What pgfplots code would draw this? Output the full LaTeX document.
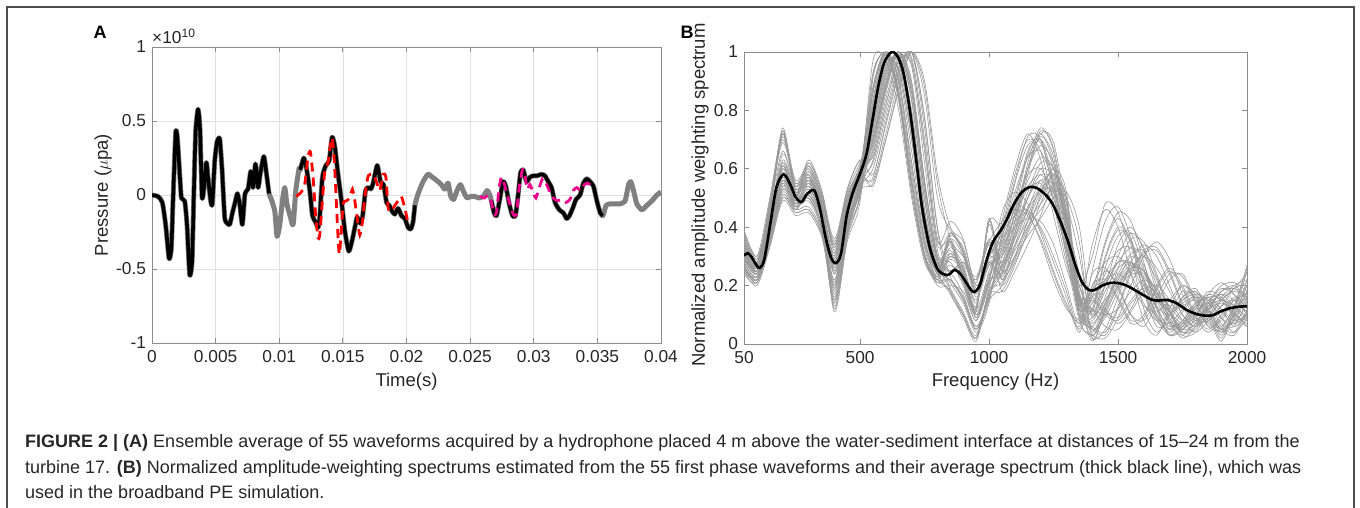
\documentclass[border=0pt]{standalone}
\usepackage{fontspec}
\setmainfont{Liberation Sans}
\usepackage{pgfplots}
\usepackage{pgfplotstable}
\pgfplotsset{compat=1.18}

% waveform (time in ms, pressure in 1e10 uPa)
\pgfplotstableread{
t v
0 0
0.47 -0.01
0.81 -0.05
1.07 -0.20
1.34 -0.43
1.52 -0.36
1.65 -0.04
1.86 0.42
1.99 0.39
2.18 0.14
2.31 -0.02
2.57 -0.04
2.75 -0.20
2.96 -0.54
3.15 -0.45
3.28 -0.02
3.43 0.43
3.62 0.58
3.77 0.45
3.93 -0.01
4.06 0.03
4.27 0.22
4.40 0.12
4.61 -0.04
4.74 -0.06
4.93 0.23
5.11 0.36
5.32 0.38
5.50 0.18
5.71 -0.15
5.90 -0.19
6.11 -0.20
6.32 -0.12
6.50 -0.06
6.71 0.01
6.89 -0.06
7.10 -0.20
7.31 0.01
7.55 0.04
7.76 0.16
7.94 0.05
8.13 0.21
8.34 0.05
8.52 0.15
8.79 0.26
9.00 0.14
9.20 0.01
9.38 -0.03
9.65 -0.11
9.83 -0.28
10.04 -0.20
10.25 -0.04
10.43 0.05
10.60 -0.06
10.88 -0.15
11.09 -0.20
11.30 0.03
11.56 0.18
11.65 0.17
11.93 0.25
12.14 0.18
12.40 0.03
12.61 -0.14
12.84 -0.18
13.05 -0.22
13.18 -0.15
13.39 0.12
13.66 0.20
13.92 0.23
14.15 0.39
14.36 0.33
14.62 0.14
14.89 -0.04
15.15 -0.24
15.46 -0.38
15.72 -0.31
15.94 -0.22
16.12 -0.15
16.33 -0.19
16.54 -0.15
16.78 0.03
16.99 0.05
17.20 0.04
17.38 0.08
17.70 0.20
17.96 0.09
18.20 0.07
18.43 -0.05
18.64 -0.07
18.87 -0.11
19.08 -0.13
19.34 -0.09
19.60 -0.14
19.87 -0.16
20.13 -0.22
20.34 -0.23
20.52 -0.18
20.66 -0.07
20.92 0.01
21.30 0.09
21.69 0.14
22.03 0.12
22.35 0.10
22.74 0.07
23.00 0.04
23.27 0.08
23.48 -0.01
23.71 -0.03
23.97 0.03
24.24 0.07
24.50 0.02
24.76 -0.02
25.02 -0.01
25.36 -0.01
25.71 -0.02
26.02 -0.01
26.34 0.03
26.55 0.00
26.67 -0.04
26.88 -0.12
27.07 -0.14
27.33 -0.03
27.59 0.09
27.80 0.06
28.07 -0.06
28.33 -0.14
28.56 -0.14
28.77 0.00
28.96 0.15
29.17 0.17
29.43 0.09
29.70 0.12
29.96 0.13
30.27 0.13
30.61 0.14
30.88 0.13
31.14 0.09
31.40 0.05
31.67 -0.05
32.01 -0.10
32.32 -0.12
32.59 -0.16
32.80 -0.14
33.06 -0.09
33.32 -0.03
33.64 0.00
33.90 0.08
34.17 0.11
34.43 0.09
34.69 0.06
34.96 -0.04
35.22 -0.12
35.43 -0.14
35.69 -0.07
36.00 -0.06
36.40 -0.06
36.79 -0.06
37.18 -0.04
37.45 0.07
37.63 0.09
37.84 0.03
38.10 -0.06
38.50 -0.10
38.89 -0.07
39.28 -0.04
39.68 0.00
40.00 0.02
}\wave

\pgfplotstableread{
t v
11.34 -0.01
11.73 0.02
12.00 0.07
12.26 0.26
12.45 0.29
12.66 0.12
12.87 -0.15
13.05 -0.29
13.18 -0.27
13.39 -0.04
13.58 0.16
13.84 0.22
14.05 0.36
14.18 0.38
14.36 0.18
14.57 -0.20
14.71 -0.40
14.84 -0.29
15.02 -0.06
15.28 -0.04
15.54 -0.02
15.75 0.04
15.94 -0.04
16.12 -0.15
16.33 -0.27
16.54 -0.18
16.72 -0.02
16.99 0.13
17.38 0.14
17.64 0.09
17.90 0.03
18.17 0.14
18.38 0.12
18.56 -0.09
18.82 -0.11
19.08 -0.07
19.34 -0.04
19.60 -0.01
19.87 -0.09
20.13 -0.19
}\redwave

\pgfplotstableread{
t v
25.76 -0.01
26.15 -0.02
26.42 0.00
26.67 -0.05
26.88 -0.13
27.07 -0.12
27.28 0.05
27.46 0.12
27.67 0.08
27.98 -0.02
28.38 -0.13
28.64 -0.13
28.85 0.05
29.11 0.17
29.30 0.14
29.48 0.04
29.70 0.07
29.90 0.03
30.17 -0.02
30.43 0.05
30.69 0.11
30.96 0.08
31.22 0.03
31.54 -0.02
31.85 -0.04
32.19 -0.03
32.53 -0.05
32.85 -0.03
33.11 0.03
33.38 0.05
33.69 0.03
33.98 0.07
34.22 0.08
34.43 0.07
}\magwave

% spectra of the individual waveforms: one row per waveform, one column per frequency (Hz)
\pgfplotstableread{
id 50 100 150 200 250 300 350 400 450 500 550 600 650 700 750 800 850 900 950 1000 1050 1100 1150 1200 1250 1300 1350 1400 1450 1500 1550 1600 1650 1700 1750 1800 1850 1900 1950 2000
1 .30 .25 .40 .57 .48 .52 .44 .27 .45 .57 .78 .96 .96 .72 .40 .24 .30 .25 .10 .22 .40 .58 .70 .66 .48 .28 .15 .10 .18 .26 .28 .22 .12 .06 .08 .14 .16 .12 .08 .10
2 .36 .28 .48 .71 .55 .60 .51 .33 .50 .61 .86 1 .87 .58 .33 .23 .38 .31 .18 .28 .30 .40 .50 .56 .50 .36 .20 .30 .48 .45 .30 .12 .04 .10 .18 .16 .08 .04 .10 .18
3 .26 .21 .34 .50 .45 .46 .38 .20 .40 .52 .70 .90 1 .84 .50 .26 .22 .15 .05 .15 .20 .30 .42 .54 .58 .40 .12 .15 .10 .08 .14 .18 .15 .10 .06 .08 .12 .14 .12 .08
4 .33 .25 .42 .62 .52 .56 .46 .30 .48 .58 .65 .84 .98 .95 .62 .30 .25 .28 .22 .35 .42 .48 .45 .35 .22 .12 .08 .05 .03 .12 .24 .32 .33 .25 .14 .08 .10 .16 .20 .22
5 .28 .23 .37 .54 .48 .50 .40 .15 .38 .55 .97 .97 .80 .50 .28 .22 .18 .10 .02 .18 .25 .42 .62 .74 .66 .40 .15 .12 .30 .40 .36 .22 .10 .04 .08 .13 .12 .06 .04 .12
6 .38 .29 .45 .73 .52 .58 .48 .25 .42 .54 .60 .78 .94 1 .74 .36 .35 .22 .12 .42 .25 .32 .40 .46 .52 .50 .35 .02 .12 .20 .25 .24 .17 .12 .14 .16 .10 .02 .12 .27
7 .25 .22 .36 .52 .47 .55 .46 .12 .36 .50 .74 .93 .99 .78 .45 .27 .31 .24 .11 .23 .35 .42 .45 .40 .30 .18 .05 .20 .22 .16 .08 .10 .20 .26 .20 .10 .05 .10 .16 .14
8 .32 .26 .44 .60 .50 .62 .52 .35 .52 .62 .71 .91 1 .83 .49 .27 .38 .32 .18 .28 .20 .28 .38 .48 .58 .50 .10 .08 .16 .30 .38 .33 .20 .08 .02 .06 .14 .19 .17 .12
9 .31 .26 .41 .58 .49 .53 .45 .28 .46 .58 .88 1 .84 .52 .30 .21 .22 .16 .06 .16 .30 .48 .66 .70 .56 .34 .12 .06 .04 .13 .25 .31 .32 .24 .13 .07 .09 .15 .19 .21
10 .35 .27 .47 .69 .54 .59 .50 .32 .49 .59 .68 .88 1 .90 .56 .28 .19 .11 .03 .19 .36 .55 .68 .69 .55 .33 .16 .16 .11 .09 .15 .19 .16 .11 .07 .09 .13 .15 .13 .09
11 .27 .22 .35 .51 .46 .47 .39 .21 .41 .53 .55 .70 .88 1 .88 .55 .36 .30 .23 .36 .28 .36 .46 .52 .53 .42 .24 .03 .13 .21 .26 .25 .18 .13 .15 .17 .11 .03 .13 .26
12 .34 .26 .43 .63 .53 .57 .47 .31 .49 .59 .93 .99 .85 .55 .30 .24 .36 .23 .13 .43 .22 .34 .46 .56 .54 .34 .10 .14 .24 .32 .33 .25 .13 .05 .07 .13 .17 .15 .10 .08
13 .29 .24 .38 .55 .49 .51 .41 .16 .39 .56 .72 .92 .99 .80 .46 .25 .30 .25 .10 .22 .45 .52 .48 .38 .25 .14 .06 .25 .42 .47 .36 .18 .06 .08 .16 .19 .12 .05 .08 .16
14 .37 .28 .44 .72 .51 .57 .47 .24 .41 .53 .80 .98 .93 .66 .36 .23 .37 .31 .17 .27 .24 .30 .37 .43 .50 .52 .40 .10 .20 .34 .40 .32 .18 .07 .03 .09 .17 .21 .17 .10
15 .26 .23 .37 .53 .48 .56 .47 .13 .37 .51 .82 .99 .91 .62 .35 .24 .24 .27 .21 .34 .22 .30 .42 .52 .60 .52 .14 .16 .34 .43 .34 .18 .08 .05 .11 .16 .14 .07 .06 .15
16 .33 .27 .45 .61 .51 .63 .53 .36 .53 .63 .58 .75 .92 1 .78 .40 .23 .16 .06 .16 .33 .40 .43 .42 .34 .20 .07 .24 .26 .19 .10 .08 .16 .24 .23 .14 .06 .08 .15 .17
17 .30 .25 .40 .56 .47 .51 .43 .26 .44 .56 .69 .89 1 .86 .53 .28 .34 .21 .11 .41 .22 .38 .58 .72 .69 .45 .17 .12 .06 .05 .11 .18 .20 .15 .08 .04 .08 .13 .15 .10
18 .37 .28 .49 .72 .56 .61 .51 .34 .51 .61 .76 .94 .98 .76 .43 .25 .17 .09 .01 .17 .18 .27 .39 .51 .60 .44 .15 .02 .05 .16 .28 .34 .30 .20 .10 .06 .12 .18 .19 .17
19 .25 .20 .33 .49 .44 .45 .37 .19 .39 .51 .87 1 .85 .55 .31 .22 .29 .24 .09 .21 .42 .60 .72 .63 .44 .26 .14 .01 .11 .19 .24 .23 .16 .11 .13 .15 .09 .01 .11 .25
20 .32 .24 .41 .61 .51 .55 .45 .29 .47 .57 .56 .72 .90 1 .85 .50 .39 .33 .19 .29 .32 .44 .53 .55 .47 .32 .17 .11 .29 .39 .35 .21 .09 .03 .07 .12 .11 .05 .03 .11
21 .27 .22 .36 .53 .47 .49 .39 .14 .37 .54 .63 .82 .97 .97 .66 .32 .25 .28 .22 .35 .18 .25 .34 .44 .55 .50 .12 .06 .14 .22 .27 .25 .16 .08 .05 .10 .16 .15 .09 .06
22 .39 .30 .46 .74 .53 .59 .49 .26 .43 .55 .67 .87 1 .88 .55 .29 .21 .14 .04 .14 .38 .56 .71 .70 .52 .30 .13 .19 .21 .15 .07 .09 .19 .25 .19 .09 .04 .09 .15 .13
23 .24 .21 .35 .51 .46 .54 .45 .11 .35 .49 .91 1 .86 .56 .31 .22 .35 .22 .12 .42 .27 .37 .47 .53 .52 .40 .23 .05 .12 .26 .36 .35 .24 .11 .03 .04 .11 .18 .19 .15
24 .31 .25 .43 .59 .49 .61 .51 .34 .51 .61 .81 .97 .94 .70 .38 .24 .18 .10 .02 .18 .27 .45 .65 .72 .62 .37 .13 .34 .46 .40 .24 .08 .03 .12 .20 .15 .06 .05 .13 .20
25 .29 .24 .39 .56 .48 .52 .44 .27 .45 .57 .62 .80 .95 .98 .70 .34 .38 .32 .18 .28 .23 .33 .44 .53 .55 .42 .16 .04 .14 .23 .28 .22 .13 .10 .15 .18 .12 .04 .09 .22
26 .36 .27 .48 .70 .55 .60 .50 .33 .50 .60 .70 .88 .99 .87 .52 .28 .25 .28 .22 .35 .26 .34 .42 .48 .53 .48 .30 .09 .26 .37 .38 .26 .12 .03 .05 .11 .14 .09 .04 .09
27 .26 .21 .34 .50 .45 .46 .38 .20 .40 .52 .77 .95 .97 .74 .42 .25 .35 .22 .12 .42 .40 .46 .44 .36 .24 .13 .07 .12 .20 .28 .33 .30 .22 .12 .04 .05 .12 .18 .20 .16
28 .33 .25 .42 .62 .52 .56 .46 .30 .48 .58 .84 1 .89 .60 .34 .23 .30 .25 .10 .22 .24 .40 .60 .73 .67 .42 .16 .18 .25 .20 .10 .06 .14 .22 .24 .15 .07 .06 .12 .16
29 .28 .23 .37 .54 .48 .50 .40 .15 .38 .55 .57 .76 .93 1 .77 .39 .18 .10 .02 .18 .21 .29 .40 .50 .58 .48 .09 .03 .02 .09 .20 .30 .35 .29 .17 .09 .08 .13 .19 .24
30 .38 .29 .45 .73 .52 .58 .48 .25 .42 .54 .86 1 .86 .56 .31 .22 .22 .15 .05 .15 .37 .44 .46 .39 .28 .16 .04 .17 .12 .07 .12 .20 .17 .11 .05 .07 .14 .16 .11 .06
31 .34 .24 .38 .60 .50 .54 .43 .22 .44 .58 .54 .70 .87 1 .90 .58 .40 .35 .20 .30 .28 .42 .60 .71 .64 .38 .10 .09 .15 .22 .30 .27 .15 .07 .06 .12 .18 .16 .10 .07
32 .29 .27 .46 .66 .53 .57 .49 .29 .47 .60 .88 .99 .84 .54 .30 .20 .20 .18 .08 .20 .33 .47 .58 .60 .50 .32 .12 .18 .35 .45 .42 .28 .12 .03 .06 .13 .16 .12 .06 .10
33 .27 .22 .39 .55 .46 .52 .46 .18 .41 .55 .75 .95 .97 .75 .44 .26 .33 .27 .14 .32 .30 .45 .60 .68 .62 .45 .18 .05 .09 .18 .26 .30 .26 .18 .10 .06 .09 .15 .18 .16
34 .35 .26 .43 .65 .54 .58 .47 .31 .49 .59 .66 .86 1 .89 .56 .30 .28 .20 .08 .25 .34 .50 .64 .70 .60 .35 .10 .20 .28 .30 .24 .14 .08 .10 .16 .18 .12 .05 .08 .18
35 .31 .25 .41 .58 .49 .53 .45 .24 .44 .57 .80 .97 .94 .70 .39 .24 .31 .26 .12 .24 .27 .38 .52 .62 .60 .46 .20 .11 .20 .28 .27 .18 .09 .07 .12 .17 .15 .09 .07 .14
36 .39 .30 .50 .72 .54 .62 .53 .34 .53 .63 .64 .82 .97 .96 .68 .35 .42 .36 .20 .30 .36 .46 .54 .58 .52 .36 .15 .16 .22 .24 .20 .13 .11 .15 .20 .17 .10 .05 .10 .20
37 .26 .22 .35 .53 .47 .50 .41 .17 .39 .54 .92 .99 .83 .52 .29 .21 .24 .17 .05 .17 .24 .36 .50 .60 .57 .42 .14 .07 .14 .24 .31 .32 .23 .11 .04 .06 .13 .17 .15 .11
38 .32 .26 .42 .61 .51 .56 .48 .28 .48 .60 .73 .93 .99 .79 .46 .26 .36 .30 .16 .27 .31 .44 .56 .64 .60 .43 .16 .12 .10 .12 .18 .22 .19 .13 .08 .10 .15 .17 .13 .09
39 .30 .24 .40 .57 .49 .55 .47 .21 .44 .56 .70 .89 1 .86 .55 .30 .32 .26 .15 .30 .38 .52 .64 .66 .54 .30 .08 .03 .10 .20 .26 .25 .18 .09 .04 .07 .14 .20 .21 .18
40 .28 .23 .38 .56 .48 .51 .43 .19 .42 .55 .83 1 .90 .62 .36 .24 .27 .21 .09 .21 .26 .38 .50 .58 .56 .44 .20 .14 .22 .28 .28 .20 .10 .05 .08 .14 .15 .11 .07 .10
}\specraw
\pgfplotstabletranspose[colnames from=id]\specB\specraw

\definecolor{mgray}{rgb}{0.5,0.5,0.5}
\definecolor{sgray}{rgb}{0.6,0.6,0.6}
\definecolor{axgray}{rgb}{0.55,0.55,0.55}
\definecolor{txt}{rgb}{0.15,0.15,0.15}

\pgfplotsset{
  mat/.style={
    scale only axis, anchor=south west,
    axis line style={draw=axgray, line width=0.9pt},
    tick style={draw=axgray, line width=0.9pt},
    tick align=inside, major tick length=5pt,
    ticklabel style={font=\fontsize{17.3}{17.3}\selectfont, text=txt},
    xticklabel style={yshift=-4pt},
    yticklabel style={xshift=-2.5pt},
    label style={font=\fontsize{18.5}{18.5}\selectfont, text=txt},
    clip=true,
  }
}

\begin{document}
\begin{tikzpicture}[x=1pt,y=1pt]
\useasboundingbox (0,0) rectangle (1360,507);
\draw[black!70, line width=1.3pt] (7,-5) -- (7,500) -- (1354,500) -- (1354,-5);

\node[font=\fontsize{18}{18}\selectfont\bfseries, text=black] at (100,475) {A};
\node[font=\fontsize{18}{18}\selectfont\bfseries, text=black] at (687,475) {B};

% ---------------- Panel A ----------------
\begin{axis}[mat, at={(152pt,164pt)}, width=509pt, height=296pt,
  xmin=0, xmax=40, ymin=-1, ymax=1,
  xtick={0,5,10,15,20,25,30,35,40},
  xticklabels={0,0.005,0.01,0.015,0.02,0.025,0.03,0.035,0.04},
  ytick={-1,-0.5,0,0.5,1}, yticklabels={-1,-0.5,0,0.5,1},
  grid=major, major grid style={draw=black!12, line width=0.6pt},
  xlabel={Time(s)}, ylabel={Pressure ($\mu$pa)},
  xlabel style={at={(axis description cs:0.5,-0.132)}, anchor=center},
  ylabel style={at={(axis description cs:-0.096,0.5)}, anchor=center},
]
\addplot[mgray, line width=5pt, smooth, tension=0.35, line join=round] table[x=t,y=v] {\wave};
\addplot[black, line width=3.6pt, smooth, tension=0.35, line join=round, restrict x to domain=0:9.25] table[x=t,y=v] {\wave};
\addplot[black, line width=3.6pt, smooth, tension=0.35, line join=round, restrict x to domain=11.6:20.7] table[x=t,y=v] {\wave};
\addplot[black, line width=3.6pt, smooth, tension=0.35, line join=round, restrict x to domain=26.6:35.45] table[x=t,y=v] {\wave};
\addplot[red, line width=2.8pt, smooth, tension=0.35, dash pattern=on 9pt off 6pt] table[x=t,y=v] {\redwave};
\addplot[magenta, line width=2.8pt, smooth, tension=0.35, dash pattern=on 9pt off 6pt] table[x=t,y=v] {\magwave};
\end{axis}
\node[anchor=south west, inner sep=0pt, font=\fontsize{17.3}{17.3}\selectfont, text=txt] at (152,463) {×10\textsuperscript{10}};

% ---------------- Panel B ----------------
\begin{axis}[mat, at={(744pt,163pt)}, width=503pt, height=292pt,
  xmin=50, xmax=2000, ymin=0, ymax=1,
  xtick={50,500,1000,1500,2000}, xticklabels={50,500,1000,1500,2000},
  ytick={0,0.2,0.4,0.6,0.8,1}, yticklabels={0,0.2,0.4,0.6,0.8,1},
  xlabel={Frequency (Hz)}, ylabel={Normalized amplitude weighting spectrum},
  xlabel style={at={(axis description cs:0.5,-0.130)}, anchor=center},
  ylabel style={at={(axis description cs:-0.0875,0.51)}, anchor=center},
]
\pgfplotsinvokeforeach{1,...,40}{
  \addplot[sgray, line width=0.6pt, smooth] table[x index=0, y index=#1] {\specB};
}
\addplot[black, line width=2.6pt, smooth, tension=0.5] coordinates {
(50,0.303)(65,0.311)(80,0.297)(99,0.269)(112,0.261)(129,0.291)(154,0.423)(176,0.537)
(203,0.581)(228,0.549)(250,0.503)(273,0.486)(295,0.514)(322,0.526)(343,0.469)(366,0.366)
(387,0.297)(406,0.277)(426,0.309)(447,0.434)(470,0.514)(499,0.581)(525,0.651)(548,0.766)
(570,0.880)(592,0.960)(614,0.994)(629,1.0)(648,0.981)(669,0.926)(693,0.80)(718,0.629)
(740,0.469)(770,0.331)(800,0.257)(827,0.238)(845,0.238)(867,0.254)(889,0.24)(911,0.211)
(934,0.181)(949,0.181)(966,0.206)(990,0.286)(1015,0.349)(1045,0.389)(1067,0.423)(1097,0.48)
(1127,0.52)(1156,0.537)(1183,0.535)(1216,0.514)(1246,0.48)(1275,0.423)(1305,0.354)(1335,0.269)
(1361,0.211)(1387,0.185)(1409,0.185)(1439,0.2)(1468,0.209)(1498,0.209)(1528,0.202)(1557,0.189)
(1595,0.169)(1632,0.151)(1661,0.149)(1691,0.151)(1728,0.139)(1765,0.117)(1803,0.103)(1840,0.097)
(1869,0.099)(1899,0.112)(1936,0.123)(1973,0.128)(2000,0.129)
};
\end{axis}

% ---------------- Caption ----------------
\begin{scope}[every node/.style={anchor=base west, inner sep=0pt, font=\fontsize{18}{18}\selectfont, text=black!85}]
\node at (25,60) {\textbf{FIGURE 2 | (A)} Ensemble average of 55 waveforms acquired by a hydrophone placed 4 m above the water-sediment interface at distances of 15–24 m from the};
\node at (25,34) {turbine 17. \textbf{(B)} Normalized amplitude-weighting spectrums estimated from the 55 first phase waveforms and their average spectrum (thick black line), which was};
\node at (25,9) {used in the broadband PE simulation.};
\end{scope}
\end{tikzpicture}
\end{document}
